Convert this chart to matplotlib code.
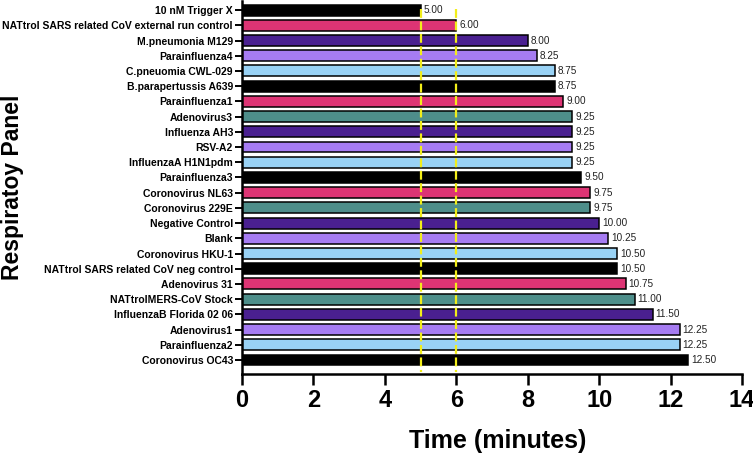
import matplotlib.pyplot as plt
import numpy as np

plt.rcParams['font.family'] = ['Liberation Sans', 'DejaVu Sans']

# data (top to bottom)
samples = [
    '10 nM Trigger X',
    'NATtrol SARS related CoV external run control',
    'M.pneumonia M129',
    'Parainfluenza4',
    'C.pneuomia CWL-029',
    'B.parapertussis A639',
    'Parainfluenza1',
    'Adenovirus3',
    'Influenza AH3',
    'RSV-A2',
    'InfluenzaA H1N1pdm',
    'Parainfluenza3',
    'Coronovirus NL63',
    'Coronovirus 229E',
    'Negative Control',
    'Blank',
    'Coronovirus HKU-1',
    'NATtrol SARS related CoV neg control',
    'Adenovirus 31',
    'NATtrolMERS-CoV Stock',
    'InfluenzaB Florida 02 06',
    'Adenovirus1',
    'Parainfluenza2',
    'Coronovirus OC43',
]
times = [5.00, 6.00, 8.00, 8.25, 8.75, 8.75, 9.00, 9.25, 9.25, 9.25, 9.25, 9.50,
         9.75, 9.75, 10.00, 10.25, 10.50, 10.50, 10.75, 11.00, 11.50, 12.25, 12.25, 12.50]
thresholds = [5, 6]

black = '#000000'
pink = '#DD3474'
dpurple = '#4A2090'
lpurple = '#A67CF2'
lblue = '#99D2F5'
teal = '#4E8E8A'
bar_colors = [black, pink, dpurple, lpurple, lblue,
              black, pink, teal, dpurple, lpurple, lblue,
              black, pink, teal, dpurple, lpurple, lblue,
              black, pink, teal, dpurple, lpurple, lblue,
              black]

fig = plt.figure(figsize=(7.53, 4.57), dpi=100)
ax = fig.add_axes([0.3214, 0.1816, 0.664, 0.816])

y = np.arange(len(samples))
bars = ax.barh(y, times, height=0.72, color=bar_colors, edgecolor='black', linewidth=1.1, zorder=2)
ax.bar_label(bars, labels=[f'{t:.2f}' for t in times], padding=2, fontsize=7.2, color='#222222')

# Trigger X reference lines
ax.vlines(thresholds, -0.1, 23.8, colors='#F2EE1A', linestyles=(0, (4, 1.6)), linewidth=1.6, zorder=3)

ax.set_ylim(23.92, -0.59)
ax.set_xlim(0, 14)
ax.set_xticks(np.arange(0, 15, 2))
ax.set_yticks(y)
ax.set_yticklabels(samples, fontsize=7.45, fontweight='bold')
ax.tick_params(axis='x', labelsize=17, width=1.8, length=8, pad=3)
for lab in ax.get_xticklabels():
    lab.set_fontweight('bold')
ax.tick_params(axis='y', width=1.4, length=5, pad=1.5)

ax.set_xlabel('Time (minutes)', fontsize=18, fontweight='bold')
ax.xaxis.set_label_coords(0.512, -0.148)
ax.set_ylabel('Respiratoy Panel', fontsize=16.5, fontweight='bold')
ax.yaxis.set_label_coords(-0.437, 0.5)

ax.spines['top'].set_visible(False)
ax.spines['right'].set_visible(False)
ax.spines['left'].set_linewidth(1.8)
ax.spines['bottom'].set_linewidth(1.8)

plt.savefig('out.png', dpi=100)
